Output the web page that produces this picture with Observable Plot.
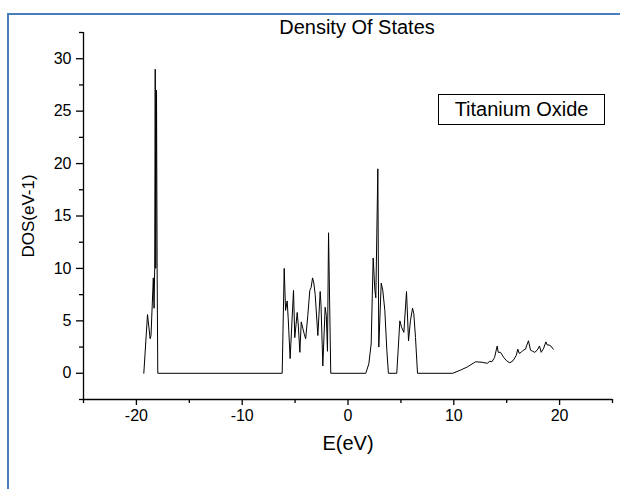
<!DOCTYPE html>
<html><head><meta charset="utf-8">
<script src="https://cdn.jsdelivr.net/npm/d3@7"></script>
<script src="https://cdn.jsdelivr.net/npm/@observablehq/plot@0.6"></script>
<style>
body{margin:0;background:#fff;}
#wrap{position:relative;width:620px;height:489px;overflow:hidden;font-family:"Liberation Sans",Arial,sans-serif;background:#fff;}
#border{position:absolute;left:7px;top:13px;width:700px;height:600px;border-left:2px solid #4a7ebb;border-top:2px solid #4a7ebb;}
#legend{position:absolute;left:438px;top:94px;width:167px;height:31px;border:1px solid #000;font-size:20px;line-height:29px;text-align:center;background:#fff;color:#000;box-sizing:border-box;}
#chart{position:absolute;left:0;top:0;}
</style></head>
<body><div id="wrap"><div id="border"></div><div id="chart"></div><div id="legend"></div></div>
<script>
const titleText = "Density Of States";
const xLabel = "E(eV)";
const yLabel = "DOS(eV-1)";
const seriesName = "Titanium Oxide";

const energy = [
  -19.3, -18.95, -18.7, -18.62, -18.4, -18.33, -18.27, -18.22, -18.17, -18.1, -18.04, -17.98,
  -6.22, -6.03, -5.9, -5.75, -5.65, -5.47, -5.15, -5.03, -4.8, -4.7, -4.55, -4.42, -4.27, -4.15, -4.0,
  -3.8, -3.61, -3.48, -3.35, -3.23, -3.1, -2.85, -2.63, -2.55, -2.38, -2.16, -2.05, -1.94, -1.84, -1.63,
  1.68, 1.97, 2.19, 2.38, 2.54, 2.63, 2.82, 2.91, 3.14, 3.29, 3.48, 3.67, 3.82,
  4.61, 4.74, 4.9, 5.06, 5.28, 5.53, 5.72, 5.9, 6.1, 6.22, 6.38, 6.57,
  9.9, 10.63, 11.27, 11.9, 12.05, 12.68, 13.16, 13.4, 13.6, 13.85, 14.1, 14.2, 14.41, 14.73, 14.98,
  15.3, 15.6, 15.9, 16.05, 16.18, 16.37, 16.56, 16.78, 16.87, 17.06, 17.25, 17.45, 17.65, 17.88,
  18.1, 18.26, 18.5, 18.7, 18.83, 19.0, 19.17, 19.4
];
const dos = [
  0, 5.6, 3.3, 3.6, 9.1, 6.2, 10, 29, 10, 27, 10, 0,
  0, 10.0, 6.0, 6.9, 5.2, 1.4, 7.9, 3.4, 5.8, 4.6, 2.0, 4.9, 4.3, 3.8, 3.3,
  5.5, 7.9, 8.2, 9.1, 8.6, 7.5, 3.6, 7.8, 6.5, 0.7, 6.3, 5.5, 2.1, 13.4, 0,
  0, 0.9, 2.8, 11.0, 7.9, 7.2, 19.5, 2.5, 8.6, 7.9, 6.0, 2.2, 0,
  0, 2.2, 5.0, 4.4, 3.9, 7.8, 3.1, 5.0, 6.2, 5.7, 3.4, 0,
  0, 0.3, 0.6, 1.0, 1.1, 1.05, 0.95, 1.15, 1.1, 1.5, 2.6, 2.0, 2.0, 1.5, 1.2,
  1.0, 1.2, 1.7, 2.3, 1.9, 2.0, 2.2, 2.3, 2.6, 3.1, 2.2, 2.1, 2.0, 2.2,
  2.6, 2.0, 2.4, 3.0, 2.7, 2.7, 2.6, 2.3
];

const xDomain = [-25, 25];
const yDomain = [-2.5, 32.5];
const xMajorTicks = [-20, -10, 0, 10, 20];
const xMinorTicks = [-25, -15, -5, 5, 15, 25];
const yMajorTicks = [0, 5, 10, 15, 20, 25, 30];
const yMinorTicks = [-2.5, 2.5, 7.5, 12.5, 17.5, 22.5, 27.5, 32.5];

const data = energy.map((e, i) => ({E: e, DOS: dos[i]}));
const fmt = d => String(d);

const chart = Plot.plot({
  width: 620, height: 489,
  marginLeft: 83, marginRight: 8, marginTop: 32, marginBottom: 90,
  style: {fontFamily: "'Liberation Sans', Arial, sans-serif", fontSize: "16px", color: "#000", background: "transparent", overflow: "visible"},
  x: {domain: xDomain, axis: null, label: null},
  y: {domain: yDomain, axis: null, label: null},
  marks: [
    Plot.ruleX([xDomain[0]], {stroke: "#000", strokeWidth: 1.3}),
    Plot.ruleY([yDomain[0]], {stroke: "#000", strokeWidth: 1.3}),
    Plot.axisX(xMajorTicks, {tickSize: 6, tickPadding: 4, tickFormat: fmt, label: null, fontSize: 16, stroke: "#000", strokeOpacity: 1, strokeWidth: 1.3}),
    Plot.axisX(xMinorTicks, {tickSize: 4, tickFormat: () => "", label: null, stroke: "#000", strokeOpacity: 1, strokeWidth: 1.3}),
    Plot.axisY(yMajorTicks, {tickSize: 7, tickPadding: 5, tickFormat: fmt, label: null, fontSize: 16, stroke: "#000", strokeOpacity: 1, strokeWidth: 1.3}),
    Plot.axisY(yMinorTicks, {tickSize: 4, tickFormat: () => "", label: null, stroke: "#000", strokeOpacity: 1, strokeWidth: 1.3}),
    Plot.line(data, {x: "E", y: "DOS", stroke: "#000", strokeWidth: 1}),
    Plot.text([titleText], {frameAnchor: "top", lineAnchor: "middle", textAnchor: "middle", dx: 9, dy: -5, fontSize: 20, fill: "#000"}),
    Plot.text([xLabel], {frameAnchor: "bottom", lineAnchor: "middle", textAnchor: "middle", dy: 44, fontSize: 20, fill: "#000"}),
    Plot.text([yLabel], {frameAnchor: "left", lineAnchor: "middle", textAnchor: "middle", dx: -55, rotate: -90, fontSize: 17, fill: "#000"})
  ]
});
document.getElementById("chart").appendChild(chart);
document.getElementById("legend").textContent = seriesName;
</script>
</body></html>
